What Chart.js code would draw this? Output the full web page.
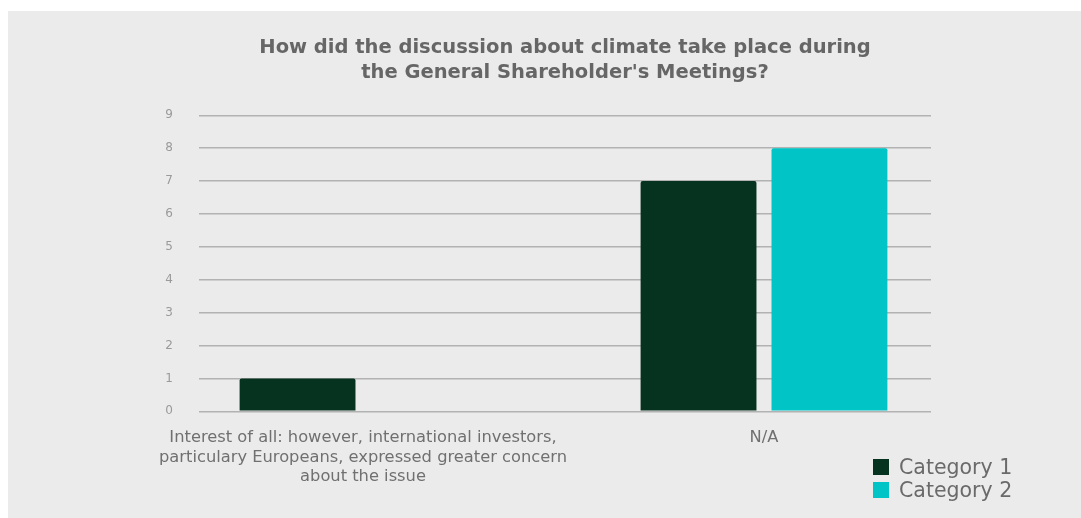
<!DOCTYPE html>
<html>
<head>
<meta charset="utf-8">
<script src="https://cdn.jsdelivr.net/npm/chart.js@4/dist/chart.umd.min.js"></script>
<style>
  html, body { margin: 0; padding: 0; background: #ffffff; }
  #panel { position: absolute; left: 8px; top: 11px; width: 1073px; height: 507px; background: #ebebeb; }
  #legend { position: absolute; left: 865px; top: 445px; font-family: "DejaVu Sans", sans-serif; font-size: 20.5px; color: #6a6a6a; }
  #legend div { height: 23px; line-height: 23px; white-space: nowrap; }
  #legend span { display: inline-block; width: 16px; height: 16px; margin-right: 10px; vertical-align: -1px; }
</style>
</head>
<body>
<div id="panel">
  <canvas id="chart" width="1073" height="507"></canvas>
  <div id="legend"></div>
</div>
<script>
// categories and their positions on the index axis
const categories = [
  ['Interest of all: however, international investors,', 'particulary Europeans, expressed greater concern', 'about the issue'],
  ['N/A']
]
const categoryPos = [0, 1]
const seriesNames = ['Category 1', 'Category 2']
const category1 = [1, 7]
const category2 = [0, 8]
const yTicks = [0, 1, 2, 3, 4, 5, 6, 7, 8, 9]
const colors = ['#06331f', '#00c4c6']

const toPoints = (vals) => vals.map((v, i) => ({ x: categoryPos[i], y: v }))

const chart = new Chart(document.getElementById('chart').getContext('2d'), {
  type: 'bar',
  data: {
    datasets: [
      {
        label: seriesNames[0],
        data: toPoints(category1),
        backgroundColor: colors[0],
        borderRadius: 2,
        borderSkipped: 'bottom',
        categoryPercentage: 0.653,
        barPercentage: 0.885
      },
      {
        label: seriesNames[1],
        data: toPoints(category2),
        backgroundColor: colors[1],
        borderRadius: 2,
        borderSkipped: 'bottom',
        categoryPercentage: 0.653,
        barPercentage: 0.885
      }
    ]
  },
  options: {
    responsive: false,
    animation: false,
    layout: { padding: { left: 150, right: 150, top: 10, bottom: 22 } },
    plugins: {
      legend: { display: false },
      tooltip: { enabled: false },
      title: {
        display: true,
        fullSize: false,
        text: ['How did the discussion about climate take place during', "the General Shareholder's Meetings?"],
        color: '#666666',
        font: { family: 'DejaVu Sans', size: 19.5, weight: 'bold', lineHeight: 1.29 },
        padding: { top: 14.5, bottom: 29.5 }
      }
    },
    scales: {
      x: {
        type: 'linear',
        offset: false,
        min: -0.409,
        max: 1.4165,
        afterBuildTicks: (axis) => { axis.ticks = categoryPos.map(v => ({ value: v })) },
        grid: { display: false },
        border: { display: false },
        ticks: {
          autoSkip: false,
          maxRotation: 0,
          padding: 9,
          color: '#707070',
          font: { family: 'DejaVu Sans', size: 16.3, lineHeight: 1.2 },
          callback: (v) => categories[categoryPos.indexOf(v)]
        }
      },
      y: {
        min: 0,
        max: 9,
        afterBuildTicks: (axis) => { axis.ticks = yTicks.map(v => ({ value: v })) },
        afterFit: (axis) => { axis.width = 41 },
        grid: { color: '#b2b2b2', lineWidth: 1.5, drawTicks: false },
        border: { display: false },
        ticks: {
          padding: 26,
          color: '#9a9a9a',
          font: { family: 'DejaVu Sans', size: 12 }
        }
      }
    }
  }
})

// legend built from the datasets
const legend = document.getElementById('legend')
chart.data.datasets.forEach(ds => {
  const row = document.createElement('div')
  const box = document.createElement('span')
  box.style.background = ds.backgroundColor
  row.appendChild(box)
  row.appendChild(document.createTextNode(ds.label))
  legend.appendChild(row)
})
</script>
</body>
</html>
